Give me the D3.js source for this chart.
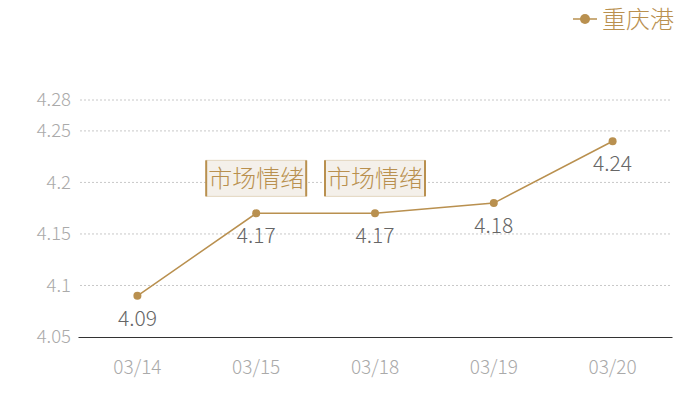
<!DOCTYPE html>
<html>
<head>
<meta charset="utf-8">
<script src="https://cdn.jsdelivr.net/npm/d3@7"></script>
<style>
  body { margin: 0; background: #fff; }
  text { font-family: "Noto Sans CJK SC", "Noto Sans", sans-serif; }
</style>
</head>
<body>
<div id="chart"></div>
<script>
// Chart data
const dates = ["03/14", "03/15", "03/18", "03/19", "03/20"];
const values = [4.09, 4.17, 4.17, 4.18, 4.24];
const yTicks = [4.05, 4.1, 4.15, 4.2, 4.25, 4.28];
const seriesName = "重庆港";
const noteText = "市场情绪";
const noteDates = ["03/15", "03/18"];

const width = 700;
const height = 400;
const margin = {left: 78, right: 28, top: 100, bottom: 63};
const gold = "#b9904f";

const svg = d3.select("#chart")
  .append("svg")
  .attr("width", width)
  .attr("height", height);

// Scales
const x = d3.scaleBand()
  .domain(dates)
  .range([margin.left, width - margin.right]);

const y = d3.scaleLinear()
  .domain([4.05, 4.28])
  .range([height - margin.bottom, margin.top]);

const cx = d => x(d) + x.bandwidth() / 2;

// Grid lines
svg.append("g")
  .selectAll("line")
  .data(yTicks.slice(1))
  .join("line")
    .attr("x1", margin.left + 2)
    .attr("x2", width - margin.right)
    .attr("y1", d => y(d))
    .attr("y2", d => y(d))
    .attr("stroke", "#c8c8c8")
    .attr("stroke-dasharray", "2,2");

// Y axis
const yAxis = svg.append("g")
  .attr("transform", `translate(${margin.left}, 0)`)
  .call(d3.axisLeft(y).tickValues(yTicks).tickSize(0).tickPadding(7).tickFormat(d => String(d)));
yAxis.select(".domain").remove();
yAxis.selectAll("text")
  .attr("fill", "#aaa")
  .attr("font-size", "18.5px")
  .attr("font-weight", 300);

// X axis
const xAxis = svg.append("g")
  .attr("transform", `translate(0, ${height - margin.bottom})`)
  .call(d3.axisBottom(x).tickSize(0).tickPadding(24));
xAxis.select(".domain").attr("stroke", "#333");
xAxis.selectAll("text")
  .attr("fill", "#aaa")
  .attr("font-size", "19px")
  .attr("font-weight", 300);

// Line
const line = d3.line()
  .x((d, i) => cx(dates[i]))
  .y(d => y(d));

svg.append("path")
  .datum(values)
  .attr("fill", "none")
  .attr("stroke", gold)
  .attr("stroke-width", 1.5)
  .attr("d", line);

// Points
svg.selectAll(".pt")
  .data(values)
  .join("circle")
    .attr("class", "pt")
    .attr("cx", (d, i) => cx(dates[i]))
    .attr("cy", d => y(d))
    .attr("r", 4)
    .attr("fill", gold);

// Value labels
svg.selectAll(".lbl")
  .data(values)
  .join("text")
    .attr("class", "lbl")
    .attr("x", (d, i) => cx(dates[i]))
    .attr("y", d => y(d) + 30)
    .attr("text-anchor", "middle")
    .attr("fill", "#666")
    .attr("font-size", "21px")
    .attr("font-weight", 300)
    .text(d => d);

// Annotation boxes
const notes = svg.selectAll(".note")
  .data(noteDates)
  .join("g")
    .attr("class", "note")
    .attr("transform", d => `translate(${cx(d)}, ${y(values[dates.indexOf(d)]) - 35})`);

notes.append("rect")
  .attr("x", -50)
  .attr("y", -18)
  .attr("width", 100)
  .attr("height", 36)
  .attr("fill", "#f4f0ea")
  .attr("stroke", "#e2d5bf")
  .attr("stroke-width", 1);

notes.append("line")
  .attr("x1", -50).attr("x2", -50)
  .attr("y1", -18).attr("y2", 18)
  .attr("stroke", gold).attr("stroke-width", 2);

notes.append("line")
  .attr("x1", 50).attr("x2", 50)
  .attr("y1", -18).attr("y2", 18)
  .attr("stroke", gold).attr("stroke-width", 2);

notes.append("text")
  .attr("text-anchor", "middle")
  .attr("dy", "0.36em")
  .attr("fill", gold)
  .attr("font-size", "24px")
  .attr("font-weight", 300)
  .text(noteText);

// Legend
const legend = svg.append("g")
  .attr("transform", "translate(573, 19)");
legend.append("line")
  .attr("x1", 0).attr("x2", 24)
  .attr("stroke", gold).attr("stroke-width", 1.5);
legend.append("circle")
  .attr("cx", 12).attr("r", 5)
  .attr("fill", gold);
legend.append("text")
  .attr("x", 29)
  .attr("dy", "0.36em")
  .attr("fill", gold)
  .attr("font-size", "24px")
  .attr("font-weight", 300)
  .text(seriesName);
</script>
</body>
</html>
